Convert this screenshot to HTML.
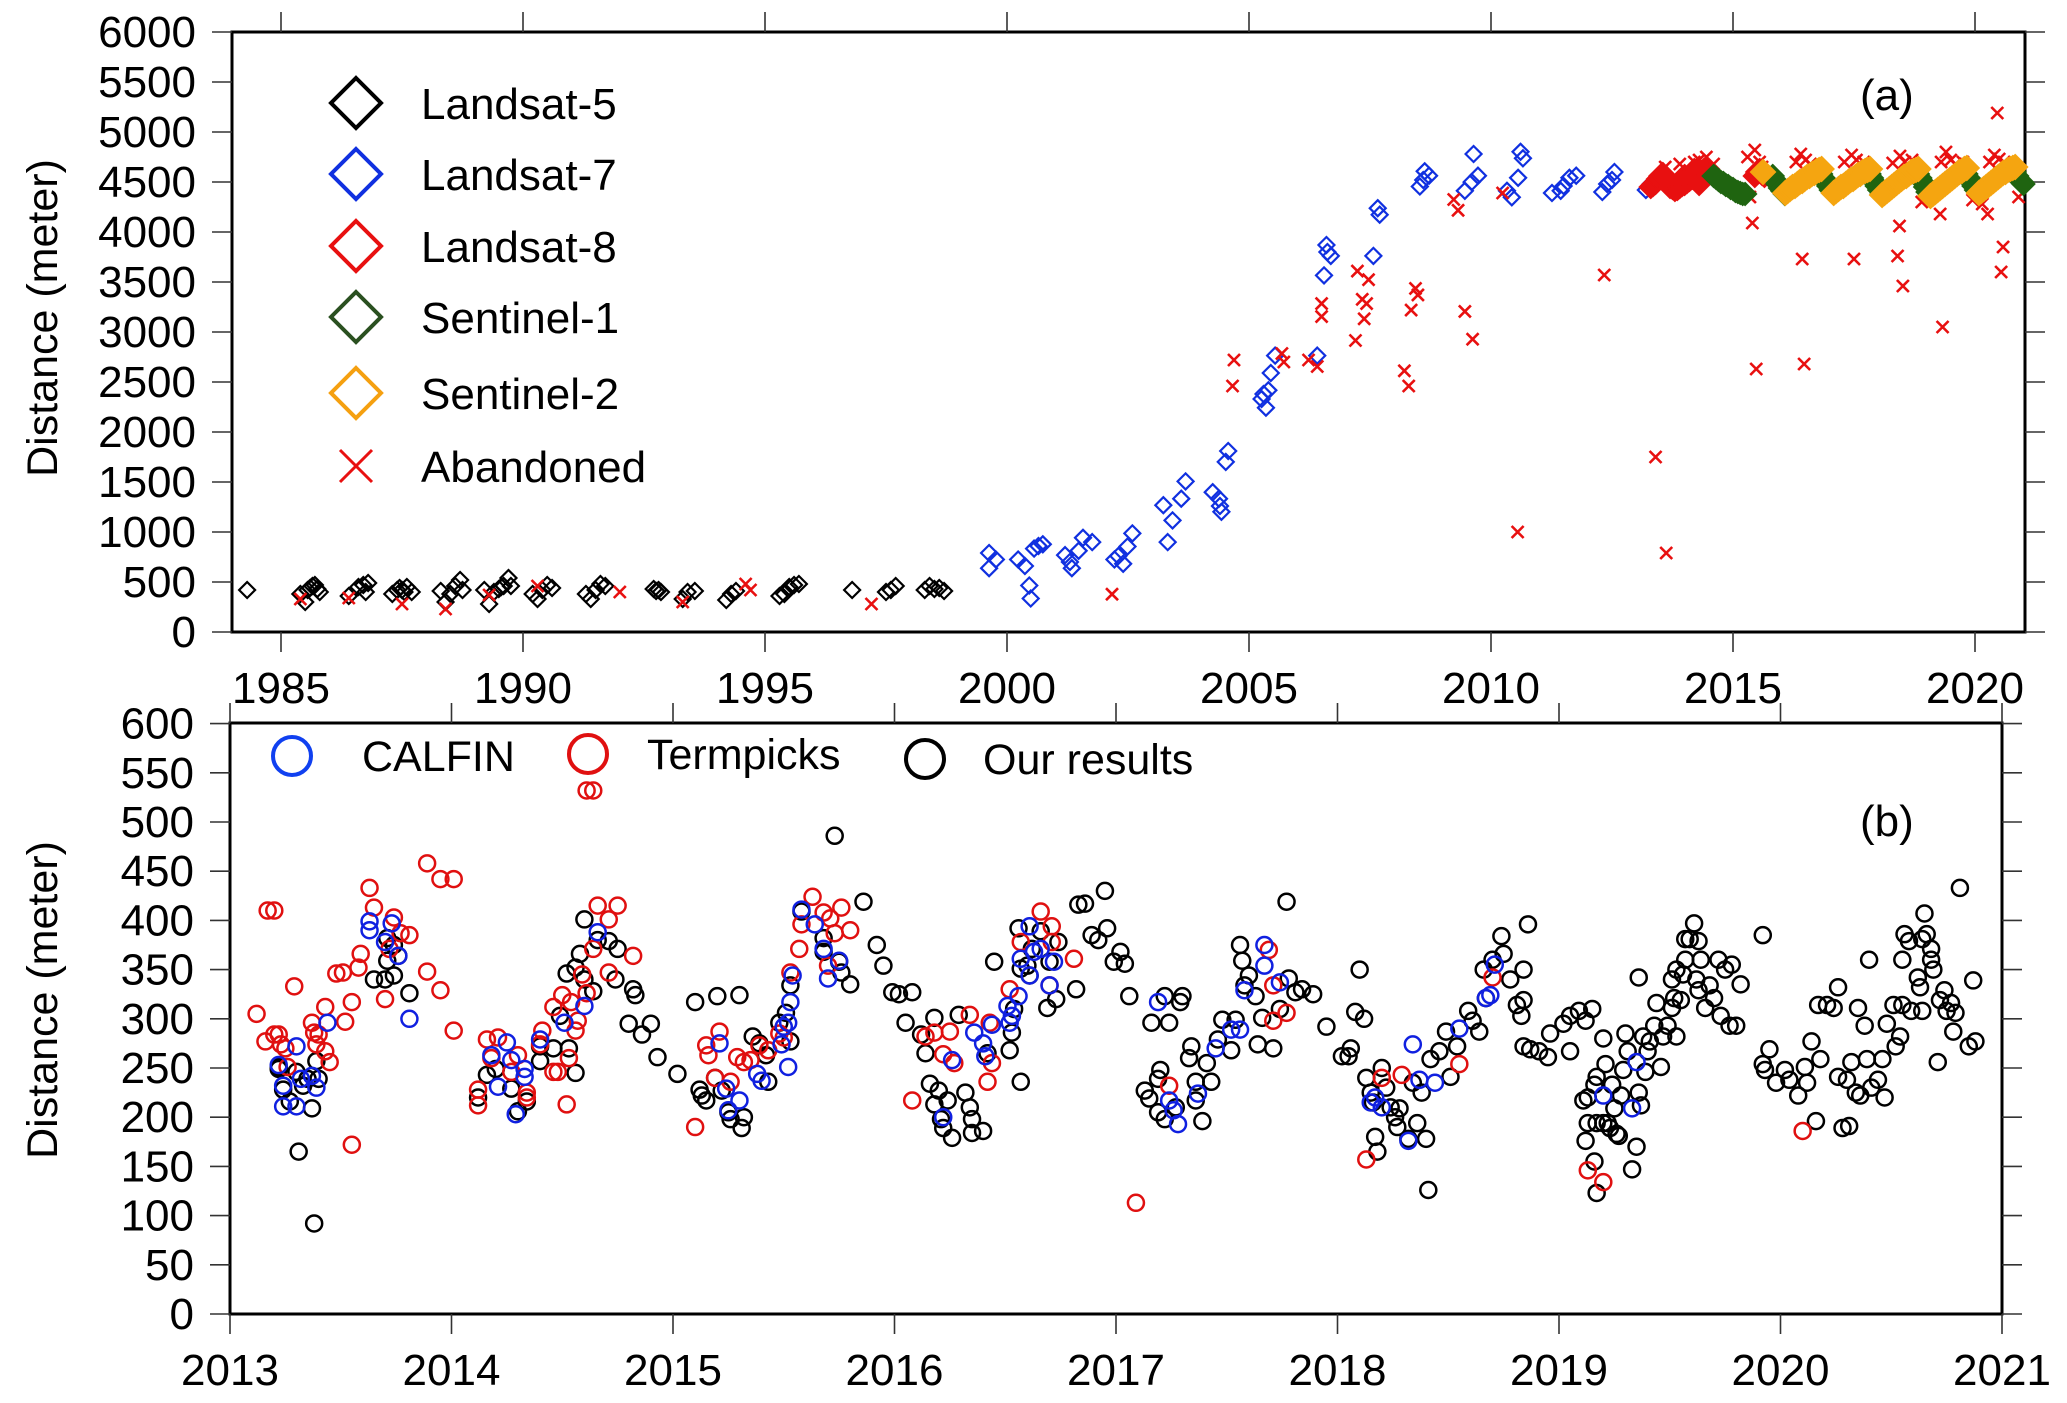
<!DOCTYPE html>
<html><head><meta charset="utf-8"><style>
html,body{margin:0;padding:0;background:#fff;}
svg{display:block;font-family:"Liberation Sans",Arial,sans-serif;}
</style></head><body>
<svg id="chart" width="2067" height="1403" viewBox="0 0 2067 1403" xmlns="http://www.w3.org/2000/svg">
<rect width="2067" height="1403" fill="#fff"/>
<g id="pa"></g>
<g id="pb"></g>
</svg>
<script>
// ---------- Panel (a) data: [decimal year, distance m] ----------
const l5Data=[[1984.3,420],[1985.4,380],[1985.5,300],[1985.55,420],[1985.6,440],[1985.65,460],[1985.7,470],[1985.75,430],[1985.8,400],
[1986.4,360],[1986.6,450],[1986.7,470],[1986.75,400],[1986.8,490],[1987.3,380],[1987.4,420],[1987.45,440],[1987.5,420],[1987.55,400],[1987.6,450],[1987.7,400],
[1988.3,410],[1988.4,300],[1988.5,380],[1988.6,460],[1988.7,520],[1988.75,420],[1989.2,420],[1989.3,280],[1989.4,400],[1989.5,430],[1989.55,450],[1989.6,460],[1989.7,540],[1989.75,460],
[1990.2,380],[1990.3,330],[1990.4,420],[1990.5,470],[1990.6,440],[1991.3,380],[1991.4,330],[1991.5,420],[1991.6,480],[1991.7,460],
[1992.7,430],[1992.75,410],[1992.8,420],[1992.85,400],[1993.3,330],[1993.4,400],[1993.55,410],[1994.2,320],[1994.3,380],[1994.4,410],
[1995.3,360],[1995.4,380],[1995.5,450],[1995.6,470],[1995.7,480],[1996.8,420],[1997.5,400],[1997.6,420],[1997.7,460],
[1998.3,420],[1998.4,460],[1998.5,430],[1998.6,440],[1998.7,410]];
const l7Data=[[1999.63,790],[1999.63,638],[1999.77,725],[2000.23,725],[2000.37,660],[2000.46,465],[2000.49,335],[2000.56,834],[2000.74,877],[2000.65,860],
[2001.2,769],[2001.34,638],[2001.57,942],[2001.76,899],[2001.48,812],[2001.3,700],[2002.22,725],[2002.4,682],[2002.59,986],[2002.49,855],[2002.3,760],
[2003.23,1268],[2003.32,899],[2003.42,1116],[2003.6,1333],[2003.69,1506],[2004.25,1398],[2004.38,1333],[2004.43,1202],[2004.4,1260],[2004.52,1701],[2004.57,1810],
[2005.26,2330],[2005.35,2243],[2005.45,2590],[2005.54,2764],[2005.4,2417],[2005.3,2380],[2006.41,2764],[2006.55,3566],[2006.6,3870],[2006.69,3761],[2006.62,3800],
[2007.57,3761],[2007.66,4238],[2007.7,4173],[2008.53,4455],[2008.63,4607],[2008.72,4563],[2008.6,4520],
[2009.46,4412],[2009.6,4499],[2009.73,4563],[2009.64,4780],[2010.33,4412],[2010.43,4347],[2010.56,4542],[2010.61,4802],[2010.66,4737],
[2011.26,4390],[2011.44,4412],[2011.62,4542],[2011.76,4563],[2011.5,4460],[2012.3,4400],[2012.4,4480],[2012.5,4520],[2012.55,4600],[2013.2,4420],[2013.3,4480]];
const abData=[[1985.4,330],[1986.4,340],[1987.5,280],[1988.4,230],[1989.3,370],[1990.3,460],[1992.0,400],[1993.3,300],[1994.6,480],[1994.7,420],[1997.2,280],
[2002.17,378],[2004.69,2720],[2004.66,2460],[2005.68,2785],[2005.72,2700],[2006.23,2720],[2006.41,2655],[2006.5,3284],[2006.5,3154],[2007.24,3609],[2007.2,2915],
[2007.34,3327],[2007.43,3284],[2007.47,3523],[2007.38,3132],[2008.21,2612],[2008.3,2460],[2008.35,3219],[2008.44,3436],[2008.49,3371],[2009.23,4325],[2009.32,4217],
[2009.46,3206],[2009.62,2928],[2010.55,1000],[2010.24,4390],[2012.34,3570],[2013.4,1750],[2013.62,790],[2015.4,4090],[2015.48,2630],[2016.43,3730],[2016.47,2680],
[2017.5,3730],[2018.44,4060],[2018.4,3760],[2018.51,3460],[2019.33,3050],[2019.28,4180],[2020.46,5190],[2020.58,3850],[2020.54,3600],[2020.15,4280],[2020.26,4180],
[2013.6,4650],[2013.9,4680],[2014.2,4700],[2014.3,4720],[2014.45,4750],[2014.6,4680],[2015.3,4750],[2015.45,4820],[2015.55,4700],[2015.6,4650],[2016.3,4700],[2016.4,4780],[2016.5,4720],[2016.6,4680],
[2017.3,4700],[2017.45,4770],[2017.55,4720],[2017.7,4700],[2018.3,4690],[2018.45,4760],[2018.55,4700],[2018.7,4720],[2019.3,4700],[2019.4,4800],[2019.5,4720],[2019.6,4680],[2019.75,4700],
[2020.3,4700],[2020.4,4770],[2020.5,4730],[2020.6,4700],[2020.7,4650],[2015.35,4350],[2018.9,4300],[2019.95,4320],[2020.9,4350]];
const l8Data=[[2013.3,4450],[2013.35,4470],[2013.4,4490],[2013.45,4530],[2013.5,4560],[2013.55,4580],[2013.6,4540],[2013.7,4450],[2013.75,4440],[2013.8,4420],[2013.85,4430],[2013.9,4450],[2013.95,4470],[2014.0,4480],
[2014.05,4500],[2014.1,4520],[2014.15,4540],[2014.2,4550],[2014.25,4570],[2014.3,4590],[2014.35,4600],[2014.4,4620],[2014.45,4620],[2014.5,4600],[2014.55,4590],[2014.0,4560],[2014.2,4620],[2014.3,4480],
[2015.45,4560],[2015.5,4600],[2015.55,4620],[2015.6,4580],[2015.65,4560]];
const s1Data=[[2014.6,4560],[2014.65,4540],[2014.7,4520],[2014.75,4500],[2014.8,4490],[2014.85,4470],[2014.9,4460],[2014.95,4440],[2015.0,4430],[2015.05,4410],[2015.1,4400],[2015.15,4390],[2015.2,4380],[2015.25,4380],
[2015.82,4560],[2015.87,4520],[2015.92,4480],[2015.97,4440],[2016.02,4410],[2016.07,4380],
[2016.82,4580],[2016.87,4540],[2016.92,4500],[2016.97,4460],[2017.02,4420],[2017.07,4390],
[2017.82,4580],[2017.87,4540],[2017.92,4500],[2017.97,4460],[2018.02,4420],[2018.07,4380],
[2018.82,4580],[2018.87,4540],[2018.92,4500],[2018.97,4450],[2019.02,4400],[2019.07,4370],
[2019.82,4580],[2019.87,4540],[2019.92,4500],[2019.97,4460],[2020.02,4420],[2020.07,4390],
[2020.82,4600],[2020.87,4560],[2020.92,4520],[2020.97,4500],[2021.0,4480]];
const s2Data=[[2015.62,4600],
[2016.08,4390],[2016.13,4410],[2016.18,4430],[2016.23,4450],[2016.28,4460],[2016.33,4480],[2016.38,4500],[2016.43,4510],[2016.48,4530],[2016.53,4550],[2016.58,4560],[2016.63,4580],[2016.68,4590],[2016.73,4610],[2016.78,4620],[2016.83,4630],
[2017.08,4390],[2017.13,4410],[2017.18,4430],[2017.23,4450],[2017.28,4460],[2017.33,4480],[2017.38,4500],[2017.43,4520],[2017.48,4530],[2017.53,4550],[2017.58,4570],[2017.63,4580],[2017.68,4600],[2017.73,4610],[2017.78,4620],[2017.83,4630],
[2018.08,4370],[2018.13,4390],[2018.18,4410],[2018.23,4430],[2018.28,4450],[2018.33,4470],[2018.38,4490],[2018.43,4510],[2018.48,4530],[2018.53,4550],[2018.58,4560],[2018.63,4580],[2018.68,4600],[2018.73,4610],[2018.78,4620],[2018.83,4630],
[2019.08,4360],[2019.13,4380],[2019.18,4400],[2019.23,4420],[2019.28,4440],[2019.33,4460],[2019.38,4480],[2019.43,4500],[2019.48,4520],[2019.53,4540],[2019.58,4560],[2019.63,4580],[2019.68,4600],[2019.73,4610],[2019.78,4630],[2019.83,4640],
[2020.08,4390],[2020.13,4410],[2020.18,4430],[2020.23,4450],[2020.28,4470],[2020.33,4490],[2020.38,4510],[2020.43,4530],[2020.48,4550],[2020.53,4570],[2020.58,4590],[2020.63,4600],[2020.68,4620],[2020.73,4630],[2020.78,4640],[2020.83,4650]];
const aYTicks=[0,500,1000,1500,2000,2500,3000,3500,4000,4500,5000,5500,6000];
const aXTicks=[1985,1990,1995,2000,2005,2010,2015,2020];

// ---------- Panel (b) data ----------
const blackData=[[2013.22,249],[2013.22,251],[2013.24,228],[2013.27,216],[2013.3,246],[2013.31,165],[2013.33,232],[2013.35,239],[2013.37,209],[2013.38,92],[2013.39,257],[2013.4,239],
[2013.65,340],[2013.7,340],[2013.71,359],[2013.71,382],[2013.74,344],[2013.74,375],[2013.76,364],[2013.81,326],
[2014.12,220],[2014.16,243],[2014.2,249],[2014.27,229],[2014.3,206],[2014.34,216],[2014.4,257],[2014.4,272],[2014.46,270],[2014.49,303],[2014.52,346],[2014.53,270],[2014.56,245],
[2014.56,352],[2014.58,366],[2014.6,340],[2014.64,328],[2014.6,401],[2014.66,380],[2014.71,379],[2014.75,371],[2014.74,340],[2014.8,295],[2014.82,330],[2014.83,324],[2014.86,284],
[2014.9,295],[2014.93,261],[2015.02,244],[2015.1,317],[2015.12,228],[2015.13,222],[2015.15,217],[2015.19,240],[2015.2,323],[2015.22,227],[2015.25,205],[2015.26,198],[2015.3,324],
[2015.31,189],[2015.32,200],[2015.36,282],[2015.39,275],[2015.43,236],[2015.42,263],[2015.48,296],[2015.51,306],[2015.53,334],[2015.58,409],[2015.68,382],[2015.68,368],
[2015.73,486],[2015.75,358],[2015.76,347],[2015.8,335],[2015.86,419],[2015.53,277],[2015.92,375],[2015.95,354],[2015.99,327],[2016.02,325],[2016.08,327],[2016.05,296],
[2016.12,284],[2016.18,301],[2016.14,265],[2016.16,234],[2016.2,227],[2016.18,213],[2016.24,217],[2016.21,198],[2016.22,189],[2016.26,179],[2016.32,225],[2016.34,210],
[2016.35,198],[2016.35,184],[2016.4,186],[2016.29,304],[2016.45,358],[2016.42,265],[2016.52,268],[2016.53,286],[2016.54,310],[2016.56,392],[2016.57,351],[2016.6,354],
[2016.61,344],[2016.62,371],[2016.66,389],[2016.7,358],[2016.69,311],[2016.73,320],[2016.57,236],[2016.74,378],[2016.82,330],[2016.83,416],[2016.86,417],[2016.89,385],
[2016.92,380],[2016.95,430],[2016.96,392],[2016.99,358],[2017.02,368],[2017.04,356],[2017.06,323],
[2017.13,227],[2017.16,296],[2017.19,239],[2017.2,248],[2017.22,323],[2017.24,296],[2017.29,317],[2017.3,323],[2017.15,219],[2017.19,205],[2017.22,198],[2017.27,210],
[2017.34,272],[2017.33,260],[2017.36,236],[2017.39,196],[2017.36,217],[2017.41,255],[2017.43,236],[2017.46,279],[2017.48,299],[2017.52,268],[2017.54,299],[2017.56,375],
[2017.57,359],[2017.58,334],[2017.6,344],[2017.63,323],[2017.64,274],[2017.71,270],[2017.66,301],[2017.74,310],[2017.77,419],[2017.78,341],[2017.81,327],[2017.84,330],
[2017.89,325],[2017.95,292],[2018.05,262],[2018.02,262],[2018.06,270],[2018.08,307],[2018.1,350],[2018.12,300],[2018.13,240],[2018.15,225],[2018.16,215],[2018.17,180],
[2018.18,165],[2018.2,250],[2018.22,230],[2018.24,210],[2018.26,200],[2018.27,190],
[2018.28,209],[2018.32,178],[2018.36,194],[2018.4,178],[2018.41,126],[2018.34,235],[2018.38,225],[2018.42,259],[2018.46,267],[2018.49,287],[2018.51,241],[2018.54,272],
[2018.59,308],[2018.61,298],[2018.64,287],[2018.67,321],[2018.66,350],[2018.7,360],[2018.74,384],[2018.75,366],[2018.78,340],[2018.81,314],[2018.83,303],[2018.84,319],
[2018.84,350],[2018.86,396],[2018.84,272],[2018.87,269],[2018.91,267],[2018.95,261],[2018.96,285],[2019.02,295],[2019.05,303],[2019.09,308],[2019.12,298],[2019.15,310],[2019.05,267],
[2019.11,217],[2019.13,220],[2019.13,194],[2019.12,176],[2019.16,155],[2019.17,123],[2019.17,194],[2019.2,194],[2019.22,194],[2019.16,233],[2019.17,241],[2019.2,280],
[2019.21,254],[2019.23,189],[2019.26,183],[2019.27,181],[2019.24,233],[2019.25,209],[2019.28,222],[2019.29,248],[2019.3,285],[2019.31,267],[2019.33,147],[2019.35,170],
[2019.36,342],[2019.36,225],[2019.37,212],[2019.38,282],[2019.39,246],[2019.4,267],[2019.41,277],[2019.43,293],[2019.44,316],[2019.46,251],[2019.47,282],[2019.49,293],
[2019.51,311],[2019.52,321],[2019.53,282],[2019.55,319],[2019.56,345],[2019.57,360],[2019.59,381],[2019.61,397],[2019.63,379],[2019.62,340],[2019.64,360],[2019.66,311],
[2019.68,334],[2019.7,321],[2019.72,360],[2019.73,303],[2019.75,350],[2019.77,293],[2019.78,355],[2019.82,335],[2019.8,293],[2019.51,340],[2019.53,350],[2019.57,381],[2019.63,329],
[2019.92,385],[2019.92,254],[2019.93,248],[2019.95,269],[2019.98,235],[2020.02,248],[2020.04,238],[2020.08,222],[2020.11,251],[2020.12,235],[2020.14,277],[2020.16,196],
[2020.18,259],[2020.17,314],[2020.21,314],[2020.24,311],[2020.26,332],[2020.26,241],[2020.28,189],[2020.3,238],[2020.31,191],[2020.32,256],[2020.34,225],[2020.35,311],
[2020.36,222],[2020.38,293],[2020.39,259],[2020.4,360],[2020.41,230],[2020.44,238],[2020.46,259],[2020.47,220],[2020.48,295],[2020.51,314],[2020.52,272],[2020.54,282],
[2020.55,314],[2020.56,386],[2020.55,360],[2020.58,379],[2020.59,308],[2020.62,342],[2020.63,332],[2020.64,308],[2020.65,407],[2020.66,386],[2020.68,371],[2020.69,350],
[2020.71,256],[2020.72,319],[2020.74,329],[2020.75,308],[2020.77,316],[2020.79,306],[2020.78,287],[2020.81,433],[2020.85,272],[2020.87,339],[2020.88,277],[2020.64,381],[2020.68,360]];
const redData=[[2013.12,305],[2013.16,277],[2013.17,410],[2013.2,410],[2013.2,284],[2013.22,284],[2013.23,274],[2013.25,270],[2013.26,251],[2013.29,333],[2013.37,296],[2013.38,286],
[2013.39,274],[2013.4,284],[2013.43,312],[2013.43,267],[2013.45,256],[2013.52,297],[2013.55,172],[2013.55,317],[2013.48,346],[2013.51,347],[2013.58,352],[2013.59,366],
[2013.63,433],[2013.65,413],[2013.7,320],[2013.72,371],[2013.74,403],[2013.77,387],[2013.81,385],[2013.89,458],[2013.89,348],[2013.95,329],[2013.95,442],[2014.01,442],[2014.01,288],
[2014.12,212],[2014.12,228],[2014.16,279],[2014.18,260],[2014.21,281],[2014.27,246],[2014.3,263],[2014.34,225],[2014.34,220],[2014.4,274],[2014.41,288],[2014.46,312],[2014.46,246],
[2014.48,246],[2014.5,324],[2014.52,213],[2014.53,260],[2014.54,317],[2014.56,288],[2014.57,298],[2014.59,345],[2014.61,532],[2014.64,532],[2014.61,326],[2014.64,371],
[2014.66,415],[2014.71,401],[2014.71,347],[2014.75,415],[2014.82,364],
[2015.1,190],[2015.15,273],[2015.21,287],[2015.16,263],[2015.19,240],[2015.29,261],[2015.32,256],[2015.35,258],[2015.26,236],[2015.39,273],[2015.43,268],[2015.48,285],
[2015.5,281],[2015.53,347],[2015.57,371],[2015.58,396],[2015.63,424],[2015.68,408],[2015.71,402],[2015.76,413],[2015.8,390],[2015.73,387],[2015.7,354],
[2016.08,217],[2016.14,282],[2016.18,286],[2016.25,287],[2016.22,264],[2016.27,255],[2016.34,304],[2016.42,236],[2016.44,255],[2016.43,296],[2016.52,330],[2016.57,378],
[2016.66,409],[2016.71,394],[2016.7,334],[2016.71,378],[2016.81,361],[2017.09,113],[2017.24,232],[2017.71,298],[2017.77,306],[2017.71,334],[2017.69,370],
[2018.13,157],[2018.2,240],[2018.29,243],[2018.55,254],[2018.7,342],[2019.13,146],[2019.2,134],[2020.1,186]];
const blueData=[[2013.22,253],[2013.24,232],[2013.24,211],[2013.3,211],[2013.3,272],[2013.32,239],[2013.37,242],[2013.39,230],[2013.44,296],[2013.63,399],[2013.63,390],
[2013.7,378],[2013.73,397],[2013.76,364],[2013.81,300],[2014.18,263],[2014.21,231],[2014.25,276],[2014.27,258],[2014.29,203],[2014.33,249],[2014.33,241],[2014.4,279],
[2014.51,296],[2014.6,313],[2014.66,388],[2015.58,411],[2015.64,396],[2015.68,371],[2015.7,341],[2015.75,359],[2015.54,344],[2015.53,317],[2015.52,296],[2015.5,292],
[2015.49,274],[2015.52,251],[2015.21,275],[2015.24,229],[2015.25,207],[2015.3,217],[2015.38,244],[2015.4,237],[2016.22,200],[2016.26,258],[2016.36,286],[2016.4,275],
[2016.41,262],[2016.44,294],[2016.51,313],[2016.53,303],[2016.52,296],[2016.56,323],[2016.57,361],[2016.61,394],[2016.63,368],[2016.66,371],[2016.72,358],[2016.7,334],
[2016.61,344],[2017.19,317],[2017.24,217],[2017.26,207],[2017.28,193],[2017.37,224],[2017.45,270],[2017.52,289],[2017.56,289],[2017.58,329],[2017.67,375],[2017.67,354],
[2017.74,337],[2018.15,215],[2018.17,220],[2018.2,210],[2018.34,274],[2018.37,238],[2018.44,235],[2018.32,176],[2018.55,290],[2018.67,321],[2018.71,355],[2018.69,324],
[2019.2,222],[2019.33,209],[2019.35,256]];
const bYTicks=[0,50,100,150,200,250,300,350,400,450,500,550,600];
const bXTicks=[2013,2014,2015,2016,2017,2018,2019,2020,2021];

// ---------- axis functions ----------
const A={x0:232,x1:2025,y0:32,y1:632};
function xa(t){return 281+(t-1985)*48.4;}
function ya(v){return 632-v*0.1;}
const B={x0:230,x1:2002,y0:723,y1:1314};
function xb(t){return 230+(t-2013)*221.5;}
function yb(v){return 1314-v*0.984;}

const NS="http://www.w3.org/2000/svg";
function mk(parent,tag,attrs){const e=document.createElementNS(NS,tag);for(const k in attrs)e.setAttribute(k,attrs[k]);parent.appendChild(e);return e;}
const pa=document.getElementById('pa'), pb=document.getElementById('pb');

function diamond(g,cx,cy,r,col,sw,fill){return mk(g,'polygon',{points:`${cx},${cy-r} ${cx+r},${cy} ${cx},${cy+r} ${cx-r},${cy}`,fill:fill||'none',stroke:col,'stroke-width':sw});}
function cross(g,cx,cy,r,col,sw){return mk(g,'path',{d:`M${cx-r},${cy-r}L${cx+r},${cy+r}M${cx-r},${cy+r}L${cx+r},${cy-r}`,stroke:col,'stroke-width':sw,fill:'none'});}

function frame(g,F,xt,yt,xf,yf,lblY,nameP){
  const f=mk(g,'rect',{x:F.x0,y:F.y0,width:F.x1-F.x0,height:F.y1-F.y0,fill:'none',stroke:'#000','stroke-width':3});
  
  
  yt.forEach(v=>{const y=yf(v);
    mk(g,'line',{x1:F.x0-20,y1:y,x2:F.x0,y2:y,stroke:'#333','stroke-width':1.6});
    mk(g,'line',{x1:F.x1,y1:y,x2:F.x1+20,y2:y,stroke:'#333','stroke-width':1.6});
    const t=mk(g,'text',{x:F.x0-36,y:y+15,'text-anchor':'end','font-size':44,fill:'#000'});t.textContent=v;
    
    
  });
  xt.forEach(v=>{const x=xf(v);
    mk(g,'line',{x1:x,y1:F.y1,x2:x,y2:F.y1+20,stroke:'#333','stroke-width':1.6});
    mk(g,'line',{x1:x,y1:F.y0-20,x2:x,y2:F.y0,stroke:'#333','stroke-width':1.6});
    const t=mk(g,'text',{x:x,y:lblY,'text-anchor':'middle','font-size':44,fill:'#000'});t.textContent=v;
    
    
  });
}
frame(pa,A,aXTicks,aYTicks,xa,ya,703,'panel-a');
frame(pb,B,bXTicks,bYTicks,xb,yb,1385,'panel-b');

function ytitle(g,cy,name){const t=mk(g,'text',{x:0,y:0,transform:`translate(57,${cy}) rotate(-90)`,'text-anchor':'middle','font-size':43,fill:'#000'});t.textContent='Distance (meter)';
  
  }
ytitle(pa,318,'panel-a-y-axis-title');
ytitle(pb,1000,'panel-b-y-axis-title');

// ---- Panel a marks ----
const ga=mk(pa,'g',{});
l5Data.forEach(d=>{const e=diamond(ga,xa(d[0]),ya(d[1]),8,'#000',2.2);});
l7Data.forEach(d=>{const e=diamond(ga,xa(d[0]),ya(d[1]),8,'#1030e0',2.2);});
abData.forEach(d=>{const e=cross(ga,xa(d[0]),ya(d[1]),6,'#e81010',2.6);});
l8Data.forEach(d=>{const e=diamond(ga,xa(d[0]),ya(d[1]),11,'#e81010',2,'#e81010');});
s1Data.forEach(d=>{const e=diamond(ga,xa(d[0]),ya(d[1]),11,'#1f6410',2,'#1f6410');});
s2Data.forEach(d=>{const e=diamond(ga,xa(d[0]),ya(d[1]),12,'#f5a510',2,'#f5a510');});

// ---- Panel a legend ----
const legA=[['Landsat-5','#000','d'],['Landsat-7','#1030e0','d'],['Landsat-8','#e81010','d'],['Sentinel-1','#2a5020','d'],['Sentinel-2','#f5a010','d'],['Abandoned','#e81010','x']];
const legAY=[103,174,246,317,393,466];
legA.forEach((L,i)=>{const g=mk(pa,'g',{});
  
  
  if(L[2]==='d')diamond(g,356,legAY[i],25,L[1],4);else cross(g,356,legAY[i],16,L[1],3);
  const t=mk(g,'text',{x:421,y:legAY[i]+16,'font-size':44,fill:'#000'});t.textContent=L[0];});
const la=mk(pa,'text',{x:1860,y:110,'font-size':44,fill:'#000'});la.textContent='(a)';



// ---- Panel b marks ----
const gb=mk(pb,'g',{});
blackData.forEach(d=>{const e=mk(gb,'circle',{cx:xb(d[0]),cy:yb(d[1]),r:8,fill:'none',stroke:'#000','stroke-width':2.5});});
redData.forEach(d=>{const e=mk(gb,'circle',{cx:xb(d[0]),cy:yb(d[1]),r:8,fill:'none',stroke:'#e01010','stroke-width':2.5});});
blueData.forEach(d=>{const e=mk(gb,'circle',{cx:xb(d[0]),cy:yb(d[1]),r:8,fill:'none',stroke:'#1020e0','stroke-width':2.5});});

// ---- Panel b legend ----
const legB=[['CALFIN','#1040f0',292,756,362],['Termpicks','#e01010',588,754,647],['Our results','#000',925,759,983]];
legB.forEach(L=>{const g=mk(pb,'g',{});
  
  
  mk(g,'circle',{cx:L[2],cy:L[3],r:19,fill:'none',stroke:L[1],'stroke-width':4});
  const t=mk(g,'text',{x:L[4],y:L[3]+15,'font-size':43,fill:'#000'});t.textContent=L[0];});
const lb=mk(pb,'text',{x:1860,y:836,'font-size':44,fill:'#000'});lb.textContent='(b)';


</script>
</body></html>
